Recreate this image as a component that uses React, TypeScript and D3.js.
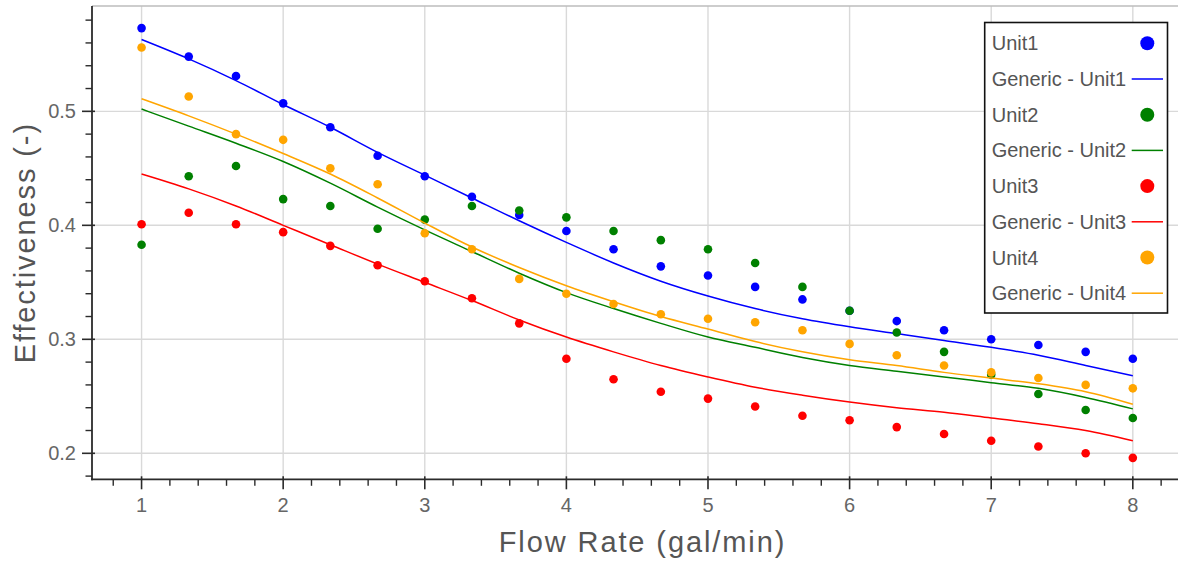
import React from "react";
import * as d3 from "d3";

// Flow rates (gal/min) at which each unit was measured
const flowRates = [1, 1.333, 1.667, 2, 2.333, 2.667, 3, 3.333, 3.667, 4, 4.333, 4.667, 5, 5.333, 5.667, 6, 6.333, 6.667, 7, 7.333, 7.667, 8];

// Measured effectiveness per unit
const unit1 = [0.573, 0.548, 0.531, 0.507, 0.486, 0.461, 0.443, 0.425, 0.409, 0.395, 0.379, 0.364, 0.356, 0.346, 0.335, 0.325, 0.316, 0.308, 0.300, 0.295, 0.289, 0.283];
const unit2 = [0.383, 0.443, 0.452, 0.423, 0.417, 0.397, 0.405, 0.417, 0.413, 0.407, 0.395, 0.387, 0.379, 0.367, 0.346, 0.325, 0.306, 0.289, 0.269, 0.252, 0.238, 0.231];
const unit3 = [0.401, 0.411, 0.401, 0.394, 0.382, 0.365, 0.351, 0.336, 0.314, 0.283, 0.265, 0.254, 0.248, 0.241, 0.233, 0.229, 0.223, 0.217, 0.211, 0.206, 0.200, 0.196];
const unit4 = [0.556, 0.513, 0.480, 0.475, 0.450, 0.436, 0.393, 0.379, 0.353, 0.340, 0.331, 0.322, 0.318, 0.315, 0.308, 0.296, 0.286, 0.277, 0.271, 0.266, 0.260, 0.257];

// Generic model curves per unit
const generic1 = [0.563, 0.546, 0.527, 0.506, 0.486, 0.464, 0.444, 0.424, 0.404, 0.385, 0.367, 0.351, 0.338, 0.327, 0.318, 0.311, 0.305, 0.299, 0.293, 0.286, 0.277, 0.268];
const generic2 = [0.502, 0.487, 0.472, 0.456, 0.437, 0.416, 0.396, 0.377, 0.358, 0.341, 0.327, 0.314, 0.302, 0.293, 0.284, 0.277, 0.272, 0.267, 0.262, 0.257, 0.249, 0.239];
const generic3 = [0.445, 0.432, 0.417, 0.400, 0.383, 0.366, 0.350, 0.334, 0.317, 0.302, 0.289, 0.277, 0.267, 0.258, 0.251, 0.245, 0.240, 0.236, 0.231, 0.226, 0.220, 0.211];
const generic4 = [0.511, 0.496, 0.480, 0.463, 0.445, 0.424, 0.402, 0.381, 0.363, 0.347, 0.333, 0.320, 0.309, 0.298, 0.289, 0.282, 0.277, 0.271, 0.266, 0.261, 0.254, 0.243];

const seriesNames = ["Unit1", "Unit2", "Unit3", "Unit4"];
const seriesColors = ["#0000ff", "#008000", "#ff0000", "#ffa500"];
const measured = [unit1, unit2, unit3, unit4];
const generic = [generic1, generic2, generic3, generic4];

const xTicks = [1, 2, 3, 4, 5, 6, 7, 8];
const yTicks = [0.2, 0.3, 0.4, 0.5];

const W = 1178;
const H = 561;
const plot = { left: 92, top: 6, right: 1193, bottom: 479.3 };

export default function App() {
  const x = d3.scaleLinear().domain([0.65, 8.425]).range([plot.left, plot.right]);
  const y = d3.scaleLinear().domain([0.1772, 0.5924]).range([plot.bottom, plot.top]);

  const xMinor = d3.range(0.8, 8.41, 0.2).filter((v) => Math.abs(v - Math.round(v)) > 1e-6);
  const yMinor = d3.range(0.18, 0.59, 0.02).filter((v) => Math.abs(v * 10 - Math.round(v * 10)) > 1e-6);

  const line = (vals: number[]) =>
    d3
      .line<number>()
      .x((_, i) => x(flowRates[i]))
      .y((v) => y(v))
      .curve(d3.curveMonotoneX)(vals) as string;

  const gridColor = "#d9d9d9";
  const axisColor = "#2b2b2b";
  const font = "'Liberation Sans', Arial, sans-serif";

  const legend = { x0: 984.7, y0: 22.5, x1: 1167.5, y1: 313, rowTop: 43.3, rowStep: 35.7 };

  return (
    <svg
      width={W}
      height={H}
      style={{ position: "absolute", left: 0, top: 0, background: "#fff" }}
      fontFamily={font}
    >
      <defs>
        <clipPath id="plotArea">
          <rect x={plot.left} y={plot.top} width={plot.right - plot.left} height={plot.bottom - plot.top} />
        </clipPath>
      </defs>

      {/* grid */}
      <g stroke={gridColor} strokeWidth={1.4}>
        {xTicks.map((t) => (
          <line key={"gx" + t} x1={x(t)} x2={x(t)} y1={plot.top} y2={plot.bottom} />
        ))}
        {yTicks.map((t) => (
          <line key={"gy" + t} x1={plot.left} x2={plot.right} y1={y(t)} y2={y(t)} />
        ))}
      </g>
      <line x1={plot.left} x2={plot.right} y1={plot.top} y2={plot.top} stroke="#bdbdbd" strokeWidth={1.4} />

      {/* series */}
      <g clipPath="url(#plotArea)">
        {seriesNames.map((name, s) => (
          <g key={name}>
            {measured[s].map((v, i) => (
              <circle key={i} cx={x(flowRates[i])} cy={y(v)} r={4.3} fill={seriesColors[s]} />
            ))}
            <path d={line(generic[s])} fill="none" stroke={seriesColors[s]} strokeWidth={1.5} />
          </g>
        ))}
      </g>

      {/* axes */}
      <g stroke={axisColor}>
        <line x1={plot.left} x2={plot.left} y1={plot.top} y2={plot.bottom + 0.9} strokeWidth={1.8} />
        <line x1={plot.left - 0.9} x2={plot.right} y1={plot.bottom} y2={plot.bottom} strokeWidth={1.8} />
        {xTicks.map((t) => (
          <line key={"tx" + t} x1={x(t)} x2={x(t)} y1={plot.bottom - 3} y2={plot.bottom + 10} strokeWidth={1.6} />
        ))}
        {xMinor.map((t) => (
          <line key={"mx" + t} x1={x(t)} x2={x(t)} y1={plot.bottom} y2={plot.bottom + 6.5} strokeWidth={1.4} />
        ))}
        {yTicks.map((t) => (
          <line key={"ty" + t} x1={plot.left - 10} x2={plot.left + 3} y1={y(t)} y2={y(t)} strokeWidth={1.6} />
        ))}
        {yMinor.map((t) => (
          <line key={"my" + t} x1={plot.left - 6.5} x2={plot.left} y1={y(t)} y2={y(t)} strokeWidth={1.4} />
        ))}
      </g>

      {/* tick labels */}
      <g fill="#666" fontSize={20}>
        {xTicks.map((t) => (
          <text key={"lx" + t} x={x(t)} y={plot.bottom + 33} textAnchor="middle">
            {d3.format("d")(t)}
          </text>
        ))}
        {yTicks.map((t) => (
          <text key={"ly" + t} x={plot.left - 16} y={y(t)} textAnchor="end" dominantBaseline="central">
            {d3.format(".1f")(t)}
          </text>
        ))}
      </g>

      {/* axis titles */}
      <text
        x={(plot.left + plot.right) / 2}
        y={551.5}
        textAnchor="middle"
        fontSize={29}
        letterSpacing={1.9}
        fill="#555"
      >
        Flow Rate (gal/min)
      </text>
      <text
        transform={`translate(35, ${(plot.top + plot.bottom) / 2}) rotate(-90)`}
        textAnchor="middle"
        fontSize={29}
        letterSpacing={1.9}
        fill="#555"
      >
        Effectiveness (-)
      </text>

      {/* legend */}
      <rect
        x={legend.x0}
        y={legend.y0}
        width={legend.x1 - legend.x0}
        height={legend.y1 - legend.y0}
        fill="#fff"
        stroke="#111"
        strokeWidth={1.6}
      />
      {seriesNames.map((name, s) => {
        const yPoint = legend.rowTop + legend.rowStep * (2 * s);
        const yLine = legend.rowTop + legend.rowStep * (2 * s + 1);
        return (
          <g key={"lg" + name} fontSize={20} fill="#555">
            <text x={991.7} y={yPoint} dominantBaseline="central">
              {name}
            </text>
            <circle cx={1147.3} cy={yPoint} r={7} fill={seriesColors[s]} />
            <text x={991.7} y={yLine} dominantBaseline="central">
              {"Generic - " + name}
            </text>
            <line x1={1131.7} x2={1163} y1={yLine} y2={yLine} stroke={seriesColors[s]} strokeWidth={1.5} />
          </g>
        );
      })}
    </svg>
  );
}
